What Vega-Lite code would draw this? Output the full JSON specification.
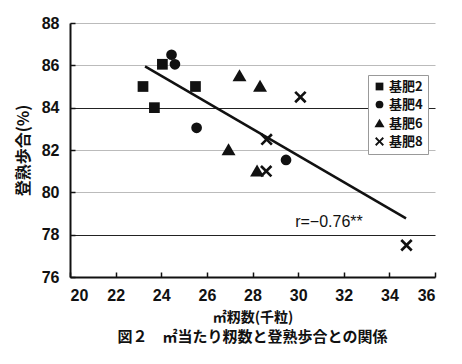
{
  "$schema": "https://vega.github.io/schema/vega-lite/v6.json",
  "width": 365,
  "height": 254,
  "autosize": {"type": "none"},
  "padding": {"left": 70, "top": 23, "right": 27, "bottom": 87},
  "background": "white",
  "title": {
    "text": "図２　㎡当たり籾数と登熟歩合との関係",
    "orient": "bottom",
    "anchor": "middle",
    "offset": 6,
    "font": "Noto Sans CJK JP",
    "fontSize": 15,
    "fontWeight": "bold",
    "color": "#111"
  },
  "config": {
    "view": {"stroke": null},
    "axis": {
      "labelFont": "Liberation Sans",
      "labelFontSize": 16,
      "labelFontWeight": "bold",
      "labelColor": "#111",
      "domainColor": "#111",
      "domainWidth": 2,
      "tickColor": "#111",
      "tickWidth": 1.5,
      "titleFont": "Noto Sans CJK JP",
      "titleFontWeight": "bold",
      "titleColor": "#111"
    }
  },
  "datasets": {
    "pts": [
      {"x": 23.2, "y": 85.0, "g": "基肥2"},
      {"x": 24.05, "y": 86.05, "g": "基肥2"},
      {"x": 23.7, "y": 84.0, "g": "基肥2"},
      {"x": 25.5, "y": 85.0, "g": "基肥2"},
      {"x": 24.45, "y": 86.5, "g": "基肥4"},
      {"x": 24.6, "y": 86.05, "g": "基肥4"},
      {"x": 25.55, "y": 83.05, "g": "基肥4"},
      {"x": 29.47, "y": 81.53, "g": "基肥4"},
      {"x": 27.43, "y": 85.5, "g": "基肥6"},
      {"x": 28.33, "y": 85.0, "g": "基肥6"},
      {"x": 26.95, "y": 82.0, "g": "基肥6"},
      {"x": 28.2, "y": 81.0, "g": "基肥6"},
      {"x": 30.1, "y": 84.5, "g": "基肥8"},
      {"x": 28.62, "y": 82.5, "g": "基肥8"},
      {"x": 28.6, "y": 81.0, "g": "基肥8"},
      {"x": 34.75, "y": 77.5, "g": "基肥8"}
    ],
    "fit": [
      {"x": 23.29, "y": 85.95},
      {"x": 34.73, "y": 78.77}
    ],
    "note": [
      {"x": 29.87, "y": 78.6, "label": "r=−0.76**"}
    ]
  },
  "layer": [
    {
      "data": {"name": "fit"},
      "mark": {"type": "line", "color": "#111", "strokeWidth": 2.5},
      "encoding": {
        "x": {
          "field": "x", "type": "quantitative",
          "scale": {"domain": [20, 36], "nice": false, "zero": false},
          "axis": {
            "values": [20, 22, 24, 26, 28, 30, 32, 34, 36],
            "grid": false,
            "tickSize": -5,
            "labelPadding": 15,
            "title": "㎡籾数(千粒)",
            "titleFontSize": 14,
            "titlePadding": 7
          }
        },
        "y": {
          "field": "y", "type": "quantitative",
          "scale": {"domain": [76, 88], "nice": false, "zero": false},
          "axis": {
            "values": [76, 78, 80, 82, 84, 86, 88],
            "grid": true,
            "gridColor": {"condition": {"test": "datum.value == 84 || datum.value == 78", "value": "#222"}, "value": "#bbb"},
            "gridWidth": 1,
            "tickSize": -5,
            "labelPadding": 16,
            "title": "登熟歩合(%)",
            "titleFontSize": 16,
            "titlePadding": 10
          }
        }
      }
    },
    {
      "data": {"name": "pts"},
      "mark": {"type": "point", "filled": true, "opacity": 1, "size": 115},
      "encoding": {
        "x": {"field": "x", "type": "quantitative"},
        "y": {"field": "y", "type": "quantitative"},
        "shape": {
          "field": "g", "type": "nominal",
          "scale": {
            "domain": ["基肥2", "基肥4", "基肥6", "基肥8"],
            "range": ["square", "circle", "M0,-1.25L1.3,1L-1.3,1Z", "M-1.15,-0.8L-0.8,-1.15L0,-0.35L0.8,-1.15L1.15,-0.8L0.35,0L1.15,0.8L0.8,1.15L0,0.35L-0.8,1.15L-1.15,0.8L-0.35,0Z"]
          },
          "legend": {
            "title": null,
            "orient": "none",
            "legendX": 298,
            "legendY": 52,
            "padding": 5,
            "strokeColor": "#999",
            "fillColor": "white",
            "symbolFillColor": "#111",
            "symbolStrokeColor": "#111",
            "symbolSize": 60,
            "labelFont": "Noto Sans CJK JP",
            "labelFontSize": 13,
            "labelFontWeight": "bold",
            "labelColor": "#111",
            "rowPadding": 3,
            "symbolOffset": 0,
            "labelOffset": 3
          }
        },
        "color": {"value": "#111"}
      }
    },
    {
      "data": {"name": "note"},
      "mark": {"type": "text", "align": "left", "baseline": "middle", "font": "Liberation Sans", "fontSize": 16, "color": "#111"},
      "encoding": {
        "x": {"field": "x", "type": "quantitative"},
        "y": {"field": "y", "type": "quantitative"},
        "text": {"field": "label"}
      }
    }
  ]
}
